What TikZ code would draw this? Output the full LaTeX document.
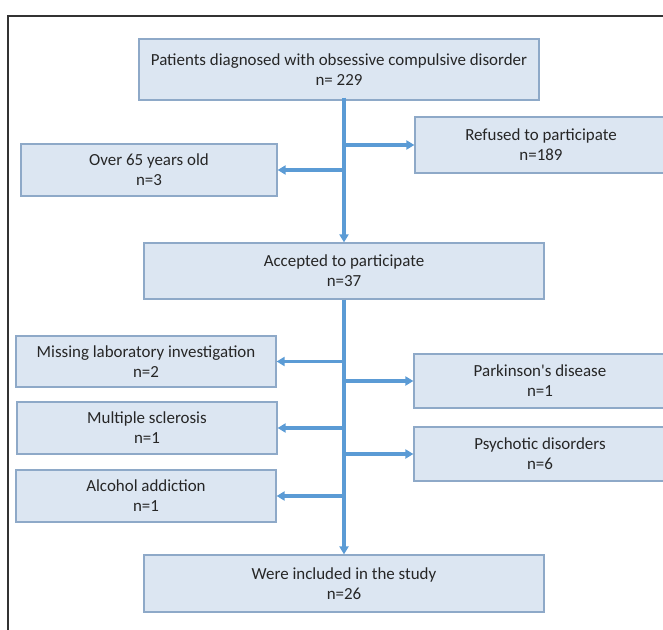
\documentclass[tikz,border=0pt]{standalone}
\usepackage{fontspec}
\setmainfont{Carlito}
\usetikzlibrary{arrows.meta}
\definecolor{boxfill}{HTML}{DCE6F2}
\definecolor{boxdraw}{HTML}{8EA9C8}
\definecolor{arrcol}{HTML}{5B9BD5}
\definecolor{framecol}{HTML}{333333}
\begin{document}
\begin{tikzpicture}[x=1bp,y=-1bp,
  box/.style={draw=boxdraw, fill=boxfill, line width=1.2bp, inner sep=0pt,
    align=center, text=black!85, font=\fontsize{17}{20}\selectfont},
  arr/.style={draw=arrcol, line width=3.2bp, -{Triangle[length=8bp,width=9bp]}}]
\useasboundingbox (0,0) rectangle (663,630);
\draw[framecol, line width=1.3bp] (8,630) -- (8,16) -- (663,16);

\node[box, minimum width=400bp, minimum height=61bp] (top) at (339,69.5)
  {Patients diagnosed with obsessive compulsive disorder\\n= 229};
\node[box, minimum width=252bp, minimum height=56bp] (ref) at (541,145)
  {Refused to participate\\n=189};
\node[box, minimum width=256bp, minimum height=52bp] (over) at (149,170)
  {Over 65 years old\\n=3};
\node[box, minimum width=400bp, minimum height=56bp] (acc) at (344,271)
  {Accepted to participate\\n=37};
\node[box, minimum width=260bp, minimum height=51bp] (miss) at (146,361.5)
  {Missing laboratory investigation\\n=2};
\node[box, minimum width=252bp, minimum height=54bp] (park) at (540,381)
  {Parkinson\textquotesingle s disease\\n=1};
\node[box, minimum width=260bp, minimum height=52bp] (ms) at (147,428)
  {Multiple sclerosis\\n=1};
\node[box, minimum width=252bp, minimum height=54bp] (psy) at (540,454)
  {Psychotic disorders\\n=6};
\node[box, minimum width=260bp, minimum height=52bp] (alc) at (146,496)
  {Alcohol addiction\\n=1};
\node[box, minimum width=400bp, minimum height=57bp] (inc) at (344,583.5)
  {Were included in the study\\n=26};

\coordinate (t1) at ([yshift=3bp]acc.north |- top.south);
\draw[arr] (t1) -- (acc.north);
\draw[arr] (acc.north |- ref.west) -- (ref.west);
\draw[arr] (acc.north |- over.east) -- (over.east);

\draw[arr] (acc.south) -- (inc.north);
\draw[arr] (acc.south |- miss.east) -- (miss.east);
\draw[arr] (acc.south |- park.west) -- (park.west);
\draw[arr] (acc.south |- ms.east) -- (ms.east);
\draw[arr] (acc.south |- psy.west) -- (psy.west);
\draw[arr] (acc.south |- alc.east) -- (alc.east);
\end{tikzpicture}
\end{document}
